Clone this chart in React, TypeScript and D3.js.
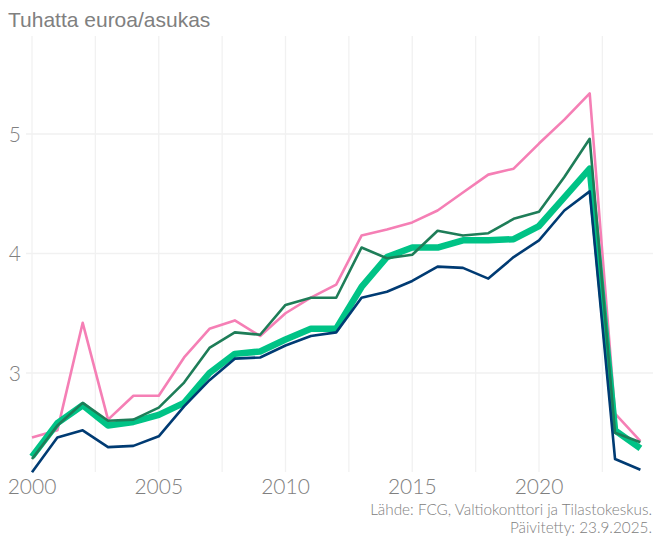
import React from "react";
import * as d3 from "d3";

const years = d3.range(2000, 2025);
const pink = [2.46, 2.52, 3.42, 2.61, 2.81, 2.81, 3.13, 3.37, 3.44, 3.31, 3.50, 3.63, 3.74, 4.15, 4.20, 4.26, 4.36, 4.51, 4.66, 4.71, 4.92, 5.12, 5.34, 2.66, 2.43];
const darkGreen = [2.28, 2.56, 2.75, 2.60, 2.61, 2.71, 2.92, 3.21, 3.34, 3.32, 3.57, 3.63, 3.63, 4.05, 3.96, 3.99, 4.19, 4.15, 4.17, 4.29, 4.35, 4.64, 4.96, 2.50, 2.42];
const mainGreen = [2.30, 2.58, 2.73, 2.56, 2.59, 2.65, 2.75, 3.00, 3.16, 3.18, 3.28, 3.37, 3.37, 3.72, 3.97, 4.05, 4.05, 4.11, 4.11, 4.12, 4.23, 4.47, 4.71, 2.52, 2.37];
const navy = [2.17, 2.46, 2.52, 2.38, 2.39, 2.47, 2.72, 2.94, 3.12, 3.13, 3.23, 3.31, 3.34, 3.63, 3.68, 3.77, 3.89, 3.88, 3.79, 3.97, 4.11, 4.36, 4.52, 2.28, 2.19];
const xTicks = [2000, 2005, 2010, 2015, 2020];
const xMinor = [2002.5, 2007.5, 2012.5, 2017.5, 2022.5];
const yTicks = [3, 4, 5];

export default function App() {
  const W = 653, H = 537;
  const x = d3.scaleLinear().domain([2000, 2020]).range([32, 539]);
  const y = d3.scaleLinear().domain([3, 5]).range([373, 134]);
  const top = 36, bottom = 472, left = 26, right = 653;
  const line = (vals: number[]) =>
    d3.line<number>().x((_, i) => x(years[i])).y((d) => y(d))(vals) || "";
  const series = [
    { v: pink, c: "#f57fb5", w: 2.6 },
    { v: mainGreen, c: "#00c386", w: 6.5 },
    { v: darkGreen, c: "#1e7d58", w: 2.6 },
    { v: navy, c: "#003b73", w: 2.6 },
  ];
  const tickFont = "Lato, 'Open Sans', sans-serif";
  return (
    <svg width={W} height={H} style={{ position: "absolute", left: 0, top: 0, background: "#fff" }}>
      <text x={8} y={27} fontFamily="'Liberation Sans', Arial, sans-serif" fontSize={21} fill="#808080">
        Tuhatta euroa/asukas
      </text>
      {yTicks.map((t) => (
        <line key={"h" + t} x1={left} x2={right} y1={y(t)} y2={y(t)} stroke="#f1f1f1" strokeWidth={1.3} />
      ))}
      {[...xTicks, ...xMinor].map((t) => (
        <line key={"v" + t} x1={x(t)} x2={x(t)} y1={top} y2={bottom} stroke="#f1f1f1" strokeWidth={1.3} />
      ))}
      {yTicks.map((t) => (
        <text key={"yl" + t} x={21} y={y(t) + 7.5} textAnchor="end" fontFamily={tickFont} fontWeight={300} fontSize={21} fill="#808080">
          {t}
        </text>
      ))}
      {xTicks.map((t) => (
        <text key={"xl" + t} x={x(t)} y={494} textAnchor="middle" fontFamily={tickFont} fontWeight={300} fontSize={21} fill="#808080">
          {t}
        </text>
      ))}
      {series.map((s, i) => (
        <path key={i} d={line(s.v)} fill="none" stroke={s.c} strokeWidth={s.w} strokeLinejoin="round" />
      ))}
      <text x={652} y={515} textAnchor="end" fontFamily={tickFont} fontWeight={300} fontSize={15.3} fill="#808080">
        Lähde: FCG, Valtiokonttori ja Tilastokeskus.
      </text>
      <text x={652} y={533} textAnchor="end" fontFamily={tickFont} fontWeight={300} fontSize={15.3} fill="#808080">
        Päivitetty: 23.9.2025.
      </text>
    </svg>
  );
}
